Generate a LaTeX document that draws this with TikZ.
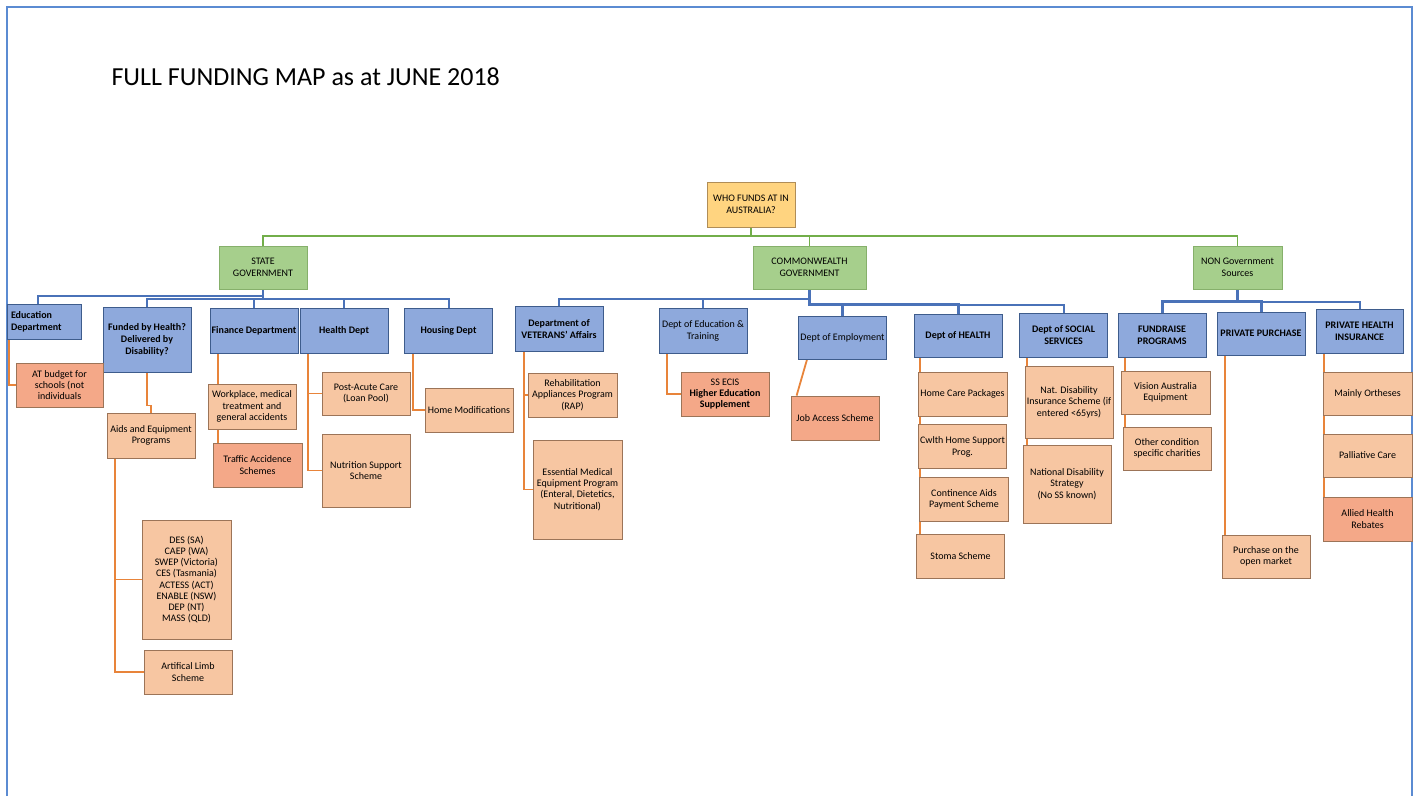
\documentclass[tikz,border=0pt]{standalone}
\usepackage{fontspec}
\setmainfont{Carlito}
\usepackage{tikz}
\usetikzlibrary{positioning,backgrounds}
\definecolor{framebl}{HTML}{5B8BD2}
\definecolor{rootfill}{HTML}{FFD480}
\definecolor{rootdraw}{HTML}{B08D57}
\definecolor{govfill}{HTML}{A6CF8C}
\definecolor{govdraw}{HTML}{86B06B}
\definecolor{deptfill}{HTML}{8EA9DC}
\definecolor{deptdraw}{HTML}{3E5C8C}
\definecolor{itemfill}{HTML}{F7C6A2}
\definecolor{salmonfill}{HTML}{F4A888}
\definecolor{itemdraw}{HTML}{9C7458}
\definecolor{lineor}{HTML}{E8843A}
\definecolor{linebl}{HTML}{4A72B8}
\definecolor{linegr}{HTML}{72AE4A}
\tikzstyle{rootbox}=
[
	rectangle
	,minimum width=88pt
	,minimum height=45pt
	,align=center
	,inner sep=0pt
	,draw=rootdraw
	,line width=1pt
	,fill=rootfill
	,font=\fontsize{10}{12}\selectfont
]
\tikzstyle{govbox}=
[
	rectangle
	,minimum width=88pt
	,minimum height=43pt
	,align=center
	,inner sep=0pt
	,draw=govdraw
	,line width=1pt
	,fill=govfill
	,font=\fontsize{10}{12}\selectfont
]
\tikzstyle{deptbox}=
[
	rectangle
	,minimum width=88pt
	,minimum height=45pt
	,align=center
	,inner sep=0pt
	,draw=deptdraw
	,line width=1pt
	,fill=deptfill
	,font=\fontsize{10}{12}\selectfont\bfseries
]
\tikzstyle{deptplain}=
[
	deptbox
	,font=\fontsize{10}{12}\selectfont
]
\tikzstyle{itembox}=
[
	rectangle
	,minimum width=88pt
	,minimum height=44pt
	,align=center
	,inner sep=0pt
	,draw=itemdraw
	,line width=0.8pt
	,fill=itemfill
	,font=\fontsize{10}{11.4}\selectfont
]
\tikzstyle{itemdark}=
[
	itembox
	,fill=salmonfill
]
\tikzstyle{frame} = [draw=framebl,line width=2.5pt]
\tikzstyle{greenline} = [draw=linegr,line width=1.6pt]
\tikzstyle{blueline} = [draw=linebl,line width=2pt]
\tikzstyle{bluethick} = [draw=linebl,line width=3pt]
\tikzstyle{orangeline} = [draw=lineor,line width=1.8pt]

\begin{document}
\begin{tikzpicture}[x=1pt,y=-1pt]
\useasboundingbox (0,0) rectangle (1418,796);
\draw[frame](7,796)--(7,7)--(1412,7)--(1412,796);
\node(title)[anchor=west,font=\fontsize{26}{30}\selectfont] at (108,77){FULL FUNDING MAP as at JUNE 2018};

\node(root)[rootbox] at (751,204.5){WHO FUNDS AT IN\\AUSTRALIA?};
\coordinate(gbus) at (751,236);
\node(state)[govbox] at (263,267.5){STATE\\GOVERNMENT};
\node(comm)[govbox,minimum width=113pt] at (809.5,267.5){COMMONWEALTH\\GOVERNMENT};
\node(nongov)[govbox,minimum width=89pt] at (1237.5,267.5){NON Government\\Sources};

% state government
\node(edu)[deptbox,minimum width=74pt,minimum height=35pt,text width=66pt,align=left] at (44,321.5){Education\\Department};
\node(funded)[deptbox,minimum height=65pt] at (147,339.5){Funded by Health?\\Delivered by\\Disability?};
\node(fin)[deptbox] at (254,330.5){Finance Department};
\node(hdept)[deptbox] at (344,330.5){Health Dept};
\node(housing)[deptbox] at (448.5,330.5){Housing Dept};

% commonwealth
\node(vet)[deptbox] at (559,329){Department of\\VETERANS' Affairs};
\node(dedu)[deptplain] at (703,330.5){Dept of Education \&\\Training};
\node(demp)[deptplain,minimum height=43pt] at (842.5,337.5){Dept of Employment};
\node(dhealth)[deptbox,minimum height=43pt] at (958,335.5){Dept of HEALTH};
\node(dss)[deptbox,minimum height=44pt] at (1063.5,335){Dept of SOCIAL\\SERVICES};

% non government
\node(fund)[deptbox,minimum height=44pt] at (1162,335){FUNDRAISE\\PROGRAMS};
\node(ppur)[deptbox,minimum height=43pt] at (1261,333.5){PRIVATE PURCHASE};
\node(phi)[deptbox,minimum width=87pt,minimum height=44pt] at (1359.5,331){PRIVATE HEALTH\\INSURANCE};

% items
\node(atb)[itemdark,minimum width=87pt] at (59.5,385){AT budget for\\schools (not\\individuals};
\node(aids)[itembox,minimum height=45pt] at (151,435.5){Aids and Equipment\\Programs};
\node(des)[itembox,minimum width=89pt,minimum height=119pt,font=\fontsize{10}{11.1}\selectfont] at (186.5,579.5){DES (SA)\\CAEP (WA)\\SWEP (Victoria)\\CES (Tasmania)\\ACTESS (ACT)\\ENABLE (NSW)\\DEP (NT)\\MASS (QLD)};
\node(limb)[itembox] at (188,672){Artifical Limb\\Scheme};
\node(work)[itembox,minimum height=45pt] at (252,406.5){Workplace, medical\\treatment and\\general accidents};
\node(traffic)[itemdark,minimum width=89pt] at (257.5,465){Traffic Accidence\\Schemes};
\node(post)[itembox,minimum height=43pt] at (366,393.5){Post-Acute Care\\(Loan Pool)};
\node(nutr)[itembox,minimum height=73pt] at (366,470.5){Nutrition Support\\Scheme};
\node(homemod)[itembox] at (469,410){Home Modifications};
\node(rap)[itembox,minimum width=89pt] at (572.5,395){Rehabilitation\\Appliances Program\\(RAP)};
\node(emep)[itembox,minimum width=89pt,minimum height=99pt] at (577.5,489.5){Essential Medical\\Equipment Program\\(Enteral, Dietetics,\\Nutritional)};
\node(ssecis)[itemdark] at (725,394){SS ECIS\\\textbf{Higher Education}\\\textbf{Supplement}};
\node(job)[itemdark] at (835,418){Job Access Scheme};
\node(hcp)[itembox,minimum width=89pt] at (962.5,394){Home Care Packages};
\node(chsp)[itembox,below=8pt of hcp]{Cwlth Home Support\\Prog.};
\node(cont)[itembox,minimum width=89pt,below=8pt of chsp,xshift=1.5pt]{Continence Aids\\Payment Scheme};
\node(stoma)[itembox,below=12pt of cont,xshift=-3.5pt]{Stoma Scheme};
\node(ndis)[itembox,minimum height=72pt] at (1069,402){Nat. Disability\\Insurance Scheme (if\\entered <65yrs)};
\node(nds)[itembox,minimum height=78pt] at (1067,484){National Disability\\Strategy\\(No SS known)};
\node(vis)[itembox,minimum width=89pt,minimum height=43pt] at (1165.5,392.5){Vision Australia\\Equipment};
\node(other)[itembox,minimum height=43pt] at (1167,448.5){Other condition\\specific charities};
\node(openm)[itembox,minimum height=43pt] at (1266,556.5){Purchase on the\\open market};
\node(orth)[itembox,minimum width=89pt,minimum height=43pt] at (1367.5,393.5){Mainly Ortheses};
\node(pall)[itembox,minimum width=89pt,minimum height=43pt] at (1367.5,455.5){Palliative Care};
\node(allied)[itemdark,minimum width=89pt] at (1367.5,519){Allied Health\\Rebates};

\begin{scope}[on background layer]
\draw[greenline](root.south)--(gbus);
\draw[greenline](state.north)|-(gbus);
\draw[greenline](nongov.north)|-(gbus);
\draw[greenline](comm.north)--(comm.north|-gbus);

\draw[blueline](state.south)--++(0,6)-|([xshift=-6pt]edu.north);
\draw[blueline](state.south)--++(0,9)-|(funded.north);
\draw[blueline](state.south)--++(0,9)-|(fin.north);
\draw[blueline](state.south)--++(0,9)-|(hdept.north);
\draw[blueline](state.south)--++(0,9)-|(housing.north);
\draw[blueline](comm.south)--++(0,9)-|(vet.north);
\draw[blueline](comm.south)--++(0,9)-|(dedu.north);
\draw[bluethick](comm.south)--++(0,15)-|(demp.north);
\draw[bluethick](comm.south)--++(0,15)-|(dhealth.north);
\draw[blueline](comm.south)--++(0,15)-|(dss.north);
\draw[bluethick](nongov.south)--++(0,12)-|(fund.north);
\draw[bluethick](nongov.south)--++(0,12)-|(ppur.north);
\draw[blueline](nongov.south)--++(0,12)-|(phi.north);

\draw[orangeline]([xshift=-35pt]edu.south)|-(atb.west);
\draw[orangeline](funded.south)--++(0,33)-|(aids.north);
\draw[orangeline]([xshift=-36pt]aids.south)|-(des.west);
\draw[orangeline]([xshift=-36pt]aids.south)|-(limb.west);
\draw[orangeline]([xshift=-36pt]fin.south)|-(work.west);
\draw[orangeline]([xshift=-36pt]fin.south)|-(traffic.west);
\draw[orangeline]([xshift=-36pt]hdept.south)|-(post.west);
\draw[orangeline]([xshift=-36pt]hdept.south)|-(nutr.west);
\draw[orangeline]([xshift=-35.5pt]housing.south)|-(homemod.west);
\draw[orangeline]([xshift=-35pt]vet.south)|-(rap.west);
\draw[orangeline]([xshift=-35pt]vet.south)|-(emep.west);
\draw[orangeline]([xshift=-36pt]dedu.south)|-(ssecis.west);
\draw[orangeline]([xshift=-35.5pt]demp.south)--([xshift=6pt]job.north west);
\draw[orangeline]([xshift=-38pt]dhealth.south)|-(hcp.west);
\draw[orangeline]([xshift=-38pt]dhealth.south)|-(chsp.west);
\draw[orangeline]([xshift=-38pt]dhealth.south)|-(cont.west);
\draw[orangeline]([xshift=-38pt]dhealth.south)|-(stoma.west);
\draw[orangeline]([xshift=-36.5pt]dss.south)|-(ndis.west);
\draw[orangeline]([xshift=-36.5pt]dss.south)|-(nds.west);
\draw[orangeline]([xshift=-37pt]fund.south)|-(vis.west);
\draw[orangeline]([xshift=-37pt]fund.south)|-(other.west);
\draw[orangeline]([xshift=-36pt]ppur.south)|-(openm.west);
\draw[orangeline]([xshift=-35.5pt]phi.south)|-(orth.west);
\draw[orangeline]([xshift=-35.5pt]phi.south)|-(pall.west);
\draw[orangeline]([xshift=-35.5pt]phi.south)|-(allied.west);
\end{scope}

\end{tikzpicture}
\end{document}
